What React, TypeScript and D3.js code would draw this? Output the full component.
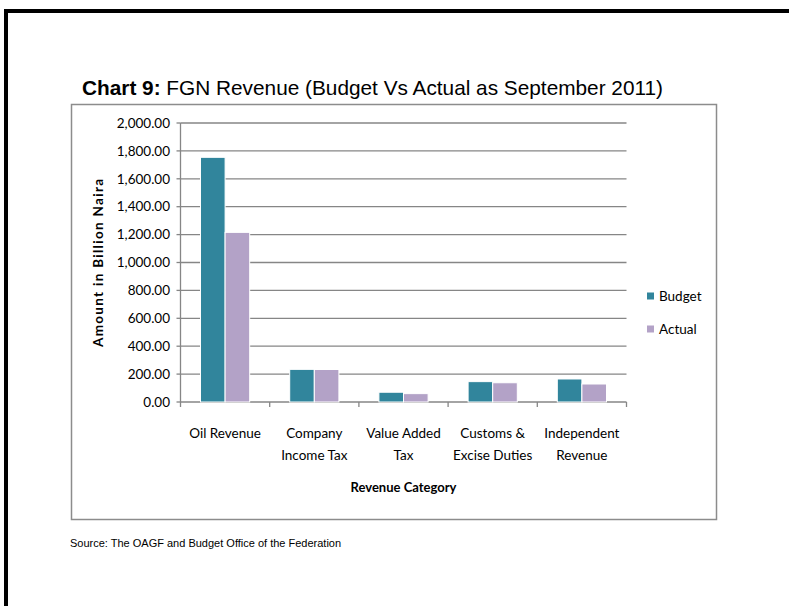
import React from "react";
import * as d3 from "d3";

const categories: string[][] = [
  ["Oil Revenue"],
  ["Company", "Income Tax"],
  ["Value Added", "Tax"],
  ["Customs &", "Excise Duties"],
  ["Independent", "Revenue"],
];
const budget = [1754, 234, 70, 146, 165];
const actual = [1216, 233, 60, 138, 129];
const seriesNames = ["Budget", "Actual"];
const seriesColors = ["#31859C", "#B3A2C7"];
const yTicks = [0, 200, 400, 600, 800, 1000, 1200, 1400, 1600, 1800, 2000];

const W = 789;
const H = 606;
const plot = { left: 180.5, right: 626.5, top: 123, bottom: 402 };

export default function App() {
  const x = d3
    .scaleBand<number>()
    .domain(d3.range(categories.length))
    .range([plot.left, plot.right])
    .paddingInner(0)
    .paddingOuter(0);
  const inner = d3
    .scaleBand<number>()
    .domain([0, 1])
    .range([20, x.bandwidth() - 20]);
  const y = d3.scaleLinear().domain([0, 2000]).range([plot.bottom, plot.top]);
  const fmt = d3.format(",.2f");
  const series = [budget, actual];
  const tickFont = "Lato, 'Open Sans', sans-serif";
  const grid = "#868686";

  return (
    <svg
      width={W}
      height={H}
      style={{ position: "absolute", left: 0, top: 0, background: "#fff" }}
    >
      {/* outer frame */}
      <path d={`M6,${H + 5} V11 H${W + 5}`} fill="none" stroke="#000" strokeWidth={4} />

      {/* title */}
      <text
        x={82}
        y={95}
        fontFamily="'Liberation Sans', Arial, sans-serif"
        fontSize={21}
        textLength={581}
        lengthAdjust="spacingAndGlyphs"
        fill="#000"
      >
        <tspan fontWeight="bold">Chart 9:</tspan>
        <tspan> FGN Revenue (Budget Vs Actual as September 2011)</tspan>
      </text>

      {/* chart box */}
      <rect x={71.5} y={104.5} width={645} height={415} fill="#fff" stroke="#8c8c8c" strokeWidth={1.5} />

      {/* gridlines */}
      {yTicks.map((t) => (
        <g key={t}>
          <line x1={plot.left} x2={plot.right} y1={y(t)} y2={y(t)} stroke={grid} strokeWidth={1.3} />
          <line x1={plot.left - 4} x2={plot.left} y1={y(t)} y2={y(t)} stroke={grid} strokeWidth={1.3} />
          <text
            x={170}
            y={y(t)}
            dy="0.35em"
            textAnchor="end"
            fontFamily={tickFont}
            fontSize={13.5}
            fill="#000"
          >
            {fmt(t)}
          </text>
        </g>
      ))}
      {/* y axis */}
      <line x1={plot.left} x2={plot.left} y1={plot.top} y2={plot.bottom} stroke={grid} strokeWidth={1.3} />
      {/* x ticks */}
      {d3.range(categories.length + 1).map((i) => {
        const xx = i < categories.length ? x(i)! : plot.right;
        return (
          <line key={i} x1={xx} x2={xx} y1={plot.bottom} y2={plot.bottom + 5} stroke={grid} strokeWidth={1.3} />
        );
      })}

      {/* bars */}
      {categories.map((_, i) =>
        series.map((s, j) => (
          <rect
            key={`${i}-${j}`}
            x={x(i)! + inner(j)!}
            y={y(s[i])}
            width={inner.bandwidth()}
            height={plot.bottom - y(s[i])}
            fill={seriesColors[j]}
            stroke="#fff"
            strokeWidth={1}
          />
        ))
      )}

      {/* x labels */}
      {categories.map((lines, i) => (
        <text
          key={i}
          x={x(i)! + x.bandwidth() / 2}
          y={438}
          textAnchor="middle"
          fontFamily={tickFont}
          fontSize={13.5}
          fill="#000"
        >
          {lines.map((l, k) => (
            <tspan key={k} x={x(i)! + x.bandwidth() / 2} dy={k === 0 ? 0 : 22}>
              {l}
            </tspan>
          ))}
        </text>
      ))}

      {/* axis titles */}
      <text
        x={(plot.left + plot.right) / 2}
        y={492}
        textAnchor="middle"
        fontFamily={tickFont}
        fontWeight="bold"
        fontSize={13}
        fill="#000"
      >
        Revenue Category
      </text>
      <text
        transform={`translate(103, 263) rotate(-90)`}
        textAnchor="middle"
        fontFamily={tickFont}
        fontWeight="bold"
        fontSize={13.5}
        textLength={168}
        lengthAdjust="spacing"
        fill="#000"
      >
        Amount in Billion Naira
      </text>

      {/* legend */}
      {seriesNames.map((n, j) => (
        <g key={n} transform={`translate(647, ${296 + j * 33})`}>
          <rect x={0} y={-3.5} width={7} height={7} fill={seriesColors[j]} />
          <text x={12} y={0} dy="0.35em" fontFamily={tickFont} fontSize={13.5} fill="#000">
            {n}
          </text>
        </g>
      ))}

      {/* source */}
      <text x={70} y={547} fontFamily="'Liberation Sans', Arial, sans-serif" fontSize={11} fill="#000">
        Source: The OAGF and Budget Office of the Federation
      </text>
    </svg>
  );
}
